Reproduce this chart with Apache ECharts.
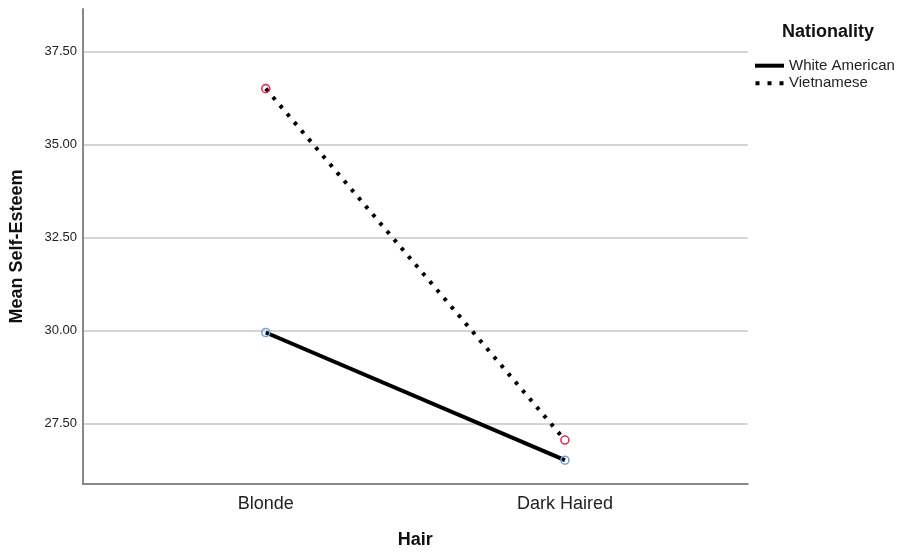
<!DOCTYPE html>
<html>
<head>
<meta charset="utf-8">
<script src="https://cdn.jsdelivr.net/npm/echarts@6/dist/echarts.min.js"></script>
<style>html,body{margin:0;padding:0;background:#fff;}#chart{width:900px;height:554px;}</style>
</head>
<body>
<div id="chart"></div>
<script>
var categories = ['Blonde', 'Dark Haired'];
var whiteAmerican = [29.95, 26.52];
var vietnamese = [36.50, 27.06];
var yTicks = [27.5, 30, 32.5, 35, 37.5];
var seriesNames = ['White American', 'Vietnamese'];
var legendTitle = 'Nationality';
var xTitle = 'Hair';
var yTitle = 'Mean Self-Esteem';

var FONT = '"Liberation Sans", Arial, sans-serif';
function pts(arr) { return arr.map(function (v, i) { return [i, v]; }); }
var xIdx = categories.map(function (c, i) { return i; });

var chart = echarts.init(document.getElementById('chart'), null, {renderer: 'canvas'});
chart.setOption({
  backgroundColor: '#fff',
  animation: false,
  title: {
    text: legendTitle, left: 777, top: 18,
    textStyle: {fontFamily: FONT, fontSize: 18, fontWeight: 'bold', color: '#111'}
  },
  legend: {
    orient: 'vertical', left: 750, top: 52.7,
    itemWidth: 29, itemHeight: 4, itemGap: 1.6,
    textStyle: {fontFamily: FONT, fontSize: 15, color: '#222', lineHeight: 16},
    data: [
      {name: seriesNames[0], icon: 'path://M0,0H29V4H0Z', itemStyle: {color: '#000', borderWidth: 0}},
      {name: seriesNames[1], icon: 'path://M0,0H4V4H0Z M12,0H16V4H12Z M24,0H28V4H24Z', itemStyle: {color: '#000', borderWidth: 0}}
    ]
  },
  grid: {left: 80.5, right: 152.3, top: 9, bottom: 67.3, containLabel: false},
  xAxis: {
    type: 'value', min: -0.611, max: 1.611,
    name: xTitle, nameLocation: 'middle', nameGap: 47,
    nameTextStyle: {fontFamily: FONT, fontSize: 18, fontWeight: 'bold', color: '#111'},
    axisLine: {show: true, onZero: false, lineStyle: {color: '#888', width: 2}},
    axisTick: {show: false, customValues: xIdx},
    splitLine: {show: false},
    axisLabel: {
      customValues: xIdx, margin: 11,
      fontFamily: FONT, fontSize: 18, color: '#222',
      formatter: function (v) { return categories[Math.round(v)]; }
    }
  },
  yAxis: {
    type: 'value', min: 25.88, max: 38.64,
    name: yTitle, nameLocation: 'middle', nameGap: 57, nameRotate: 90,
    nameTextStyle: {fontFamily: FONT, fontSize: 18, fontWeight: 'bold', color: '#111'},
    axisLine: {show: true, onZero: false, lineStyle: {color: '#888', width: 2}},
    axisTick: {show: false, customValues: yTicks},
    splitLine: {show: true, lineStyle: {color: '#c6c6c6', width: 1.5}},
    axisLabel: {
      customValues: yTicks, margin: 6,
      fontFamily: FONT, fontSize: 13, color: '#222',
      formatter: function (v) { return v.toFixed(2); }
    }
  },
  series: [
    {
      name: seriesNames[0], type: 'line', data: pts(whiteAmerican),
      symbol: 'circle', symbolSize: 8,
      lineStyle: {color: '#000', width: 4, type: 'solid'},
      itemStyle: {color: 'rgba(255,255,255,0)', borderColor: '#74a3e3', borderWidth: 1.6},
      z: 3
    },
    {
      name: seriesNames[1], type: 'line', data: pts(vietnamese),
      symbol: 'circle', symbolSize: 8,
      lineStyle: {color: '#000', width: 4, type: [3.5, 7.5], cap: 'butt'},
      itemStyle: {color: 'rgba(255,255,255,0)', borderColor: '#e0325c', borderWidth: 1.6},
      z: 3
    }
  ]
});
</script>
</body>
</html>
